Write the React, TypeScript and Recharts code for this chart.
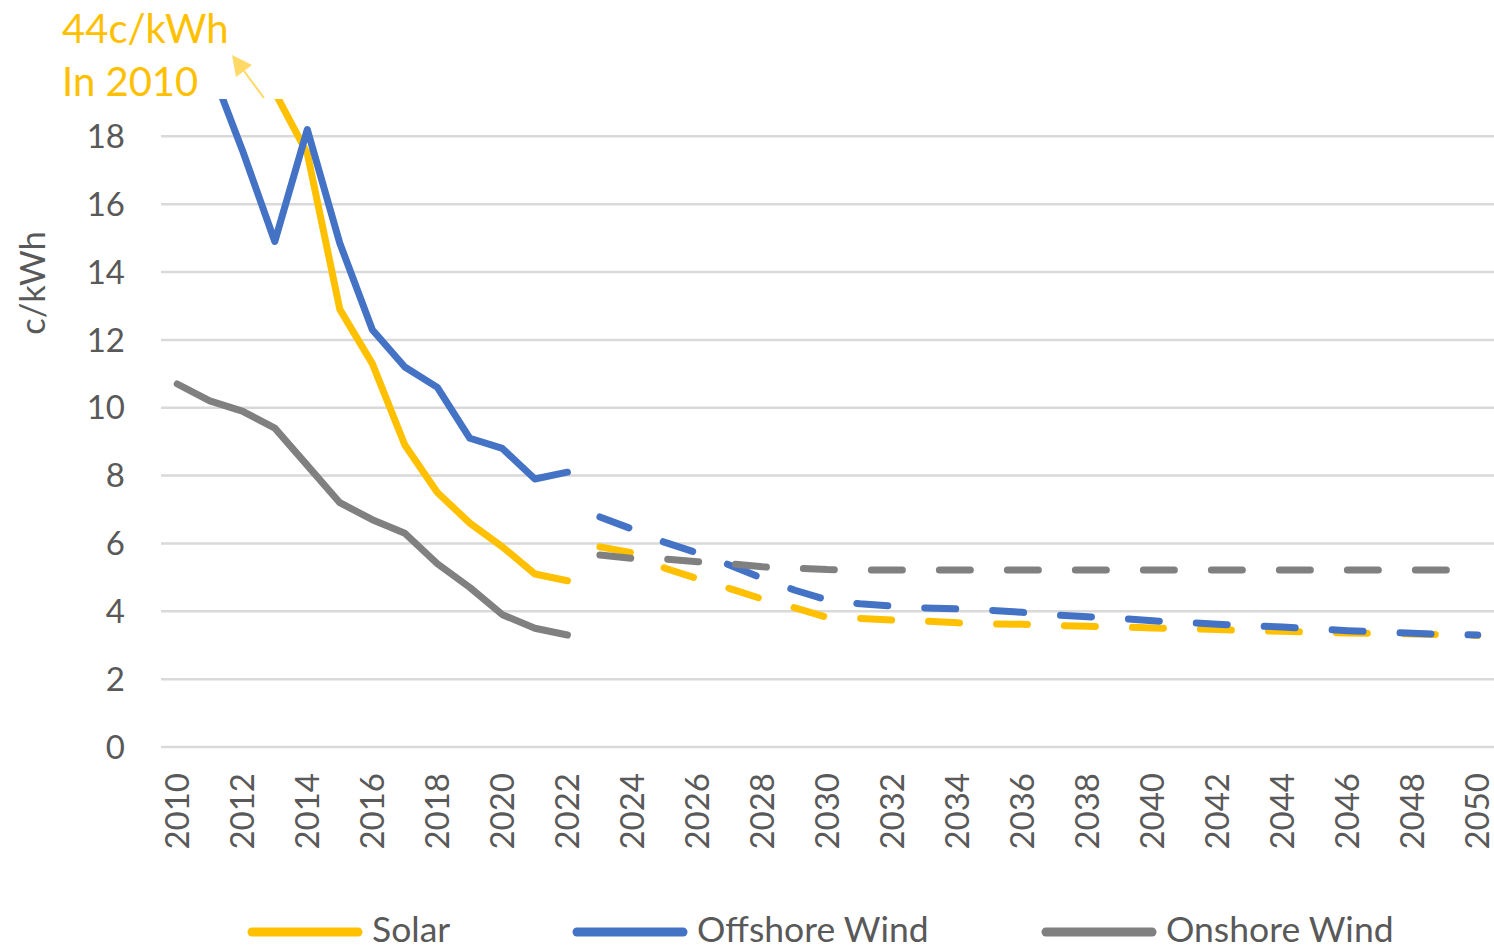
import React from 'react';
import { LineChart, Line, XAxis, YAxis, CartesianGrid } from 'recharts';

const years = [
  2010, 2011, 2012, 2013, 2014, 2015, 2016, 2017, 2018, 2019, 2020, 2021, 2022,
  2023, 2024, 2025, 2026, 2027, 2028, 2029, 2030, 2031, 2032, 2033, 2034, 2035,
  2036, 2037, 2038, 2039, 2040, 2041, 2042, 2043, 2044, 2045, 2046, 2047, 2048,
  2049, 2050,
];

// 2010-2022 actuals (solid)
const solarHistory = [44, 32, 25, 19.3, 17.5, 12.9, 11.3, 8.9, 7.5, 6.6, 5.9, 5.1, 4.9];
const offshoreHistory = [21, 20.1, 17.6, 14.9, 18.2, 14.85, 12.3, 11.2, 10.6, 9.1, 8.8, 7.9, 8.1];
const onshoreHistory = [10.7, 10.2, 9.9, 9.4, 8.3, 7.2, 6.7, 6.3, 5.4, 4.7, 3.9, 3.5, 3.3];

// 2023-2050 projections (dashed)
const solarProjection = [
  5.9, 5.72, 5.27, 4.96, 4.67, 4.36, 4.1, 3.82, 3.79, 3.74, 3.71, 3.66, 3.63, 3.62,
  3.58, 3.56, 3.54, 3.51, 3.49, 3.46, 3.43, 3.41, 3.38, 3.36, 3.35, 3.33, 3.31, 3.29,
];
const offshoreProjection = [
  6.78, 6.42, 6.03, 5.72, 5.36, 4.97, 4.62, 4.33, 4.22, 4.15, 4.1, 4.07, 4.03, 3.97,
  3.89, 3.84, 3.79, 3.72, 3.67, 3.62, 3.57, 3.54, 3.48, 3.43, 3.39, 3.35, 3.32, 3.3,
];
const onshoreProjection = [
  5.66, 5.56, 5.54, 5.46, 5.4, 5.31, 5.27, 5.23, 5.22, 5.22, 5.22, 5.22, 5.22, 5.22,
  5.22, 5.22, 5.22, 5.22, 5.22, 5.22, 5.22, 5.22, 5.22, 5.22, 5.22, 5.22, 5.22, 5.22,
];

const yTicks = [0, 2, 4, 6, 8, 10, 12, 14, 16, 18];
const xTicks = years.filter((y) => y % 2 === 0);

const SOLAR = '#FFC000';
const OFFSHORE = '#4472C4';
const ONSHORE = '#808080';
const TEXT = '#595959';
const FONT = 'Lato, "Open Sans", sans-serif';

const histLen = solarHistory.length;
const data = years.map((year, i) => ({
  year,
  solarHist: i < histLen ? solarHistory[i] : null,
  offHist: i < histLen ? offshoreHistory[i] : null,
  onHist: i < histLen ? onshoreHistory[i] : null,
  solarProj: i >= histLen ? solarProjection[i - histLen] : null,
  offProj: i >= histLen ? offshoreProjection[i - histLen] : null,
  onProj: i >= histLen ? onshoreProjection[i - histLen] : null,
}));

const legendItems = [
  { name: 'Solar', color: SOLAR, x: 248 },
  { name: 'Offshore Wind', color: OFFSHORE, x: 573 },
  { name: 'Onshore Wind', color: ONSHORE, x: 1042 },
];

function YearTick(props: any) {
  const { x, y, payload } = props;
  const ty = y + 26;
  return (
    <text
      x={x}
      y={ty}
      dy="0.35em"
      transform={`rotate(-90 ${x} ${ty})`}
      textAnchor="end"
      fill={TEXT}
      fontSize={33}
      fontFamily={FONT}
    >
      {payload.value}
    </text>
  );
}

const lineProps = {
  type: 'linear' as const,
  dot: false,
  activeDot: false,
  strokeWidth: 7,
  strokeLinecap: 'round' as const,
  strokeLinejoin: 'round' as const,
  isAnimationActive: false,
  connectNulls: false,
};

const dash = '31 37';

export default function App() {
  return (
    <div style={{ position: 'absolute', left: 0, top: 0, width: 1494, height: 947, background: '#fff' }}>
      <LineChart
        width={1494}
        height={947}
        data={data}
        margin={{ top: 99, right: 0, left: 101, bottom: 80 }}
      >
        <CartesianGrid
          vertical={false}
          stroke="#D9D9D9"
          strokeWidth={2.5}
          horizontalValues={yTicks}
        />
        <XAxis
          dataKey="year"
          type="number"
          domain={[2009.5, 2050.5]}
          ticks={xTicks}
          interval={0}
          axisLine={false}
          tickLine={false}
          tickSize={0}
          tickMargin={0}
          height={120}
          tick={<YearTick />}
        />
        <YAxis
          domain={[0, 19.1]}
          ticks={yTicks}
          allowDataOverflow
          axisLine={false}
          tickLine={false}
          tickSize={0}
          tickMargin={36}
          width={60}
          tick={{ fill: TEXT, fontSize: 33, fontFamily: FONT }}
        />
        <Line {...lineProps} dataKey="solarHist" stroke={SOLAR} />
        <Line {...lineProps} dataKey="offHist" stroke={OFFSHORE} />
        <Line {...lineProps} dataKey="onHist" stroke={ONSHORE} />
        <Line {...lineProps} dataKey="solarProj" stroke={SOLAR} strokeDasharray={dash} />
        <Line {...lineProps} dataKey="offProj" stroke={OFFSHORE} strokeDasharray={dash} />
        <Line {...lineProps} dataKey="onProj" stroke={ONSHORE} strokeDasharray={dash} />
      </LineChart>

      <svg
        width={1494}
        height={947}
        style={{ position: 'absolute', left: 0, top: 0, pointerEvents: 'none' }}
      >
        <text x={62} y={43} fill={SOLAR} fontSize={40} fontFamily={FONT}>
          44c/kWh
        </text>
        <text x={62} y={96} fill={SOLAR} fontSize={40} fontFamily={FONT}>
          In 2010
        </text>
        <line x1={264} y1={98} x2={244} y2={71} stroke="#FFD966" strokeWidth={2} />
        <polygon points="232,55 252,65 236,77" fill="#FFD966" />

        <text
          x={33}
          y={283}
          dy="0.35em"
          transform="rotate(-90 33 283)"
          textAnchor="middle"
          fill={TEXT}
          fontSize={34.5}
          fontFamily={FONT}
        >
          c/kWh
        </text>

        {legendItems.map((item) => (
          <g key={item.name}>
            <line
              x1={item.x + 4}
              y1={932}
              x2={item.x + 110}
              y2={932}
              stroke={item.color}
              strokeWidth={9}
              strokeLinecap="round"
            />
            <text x={item.x + 124} y={942} fill={TEXT} fontSize={35.5} fontFamily={FONT}>
              {item.name}
            </text>
          </g>
        ))}
      </svg>
    </div>
  );
}
